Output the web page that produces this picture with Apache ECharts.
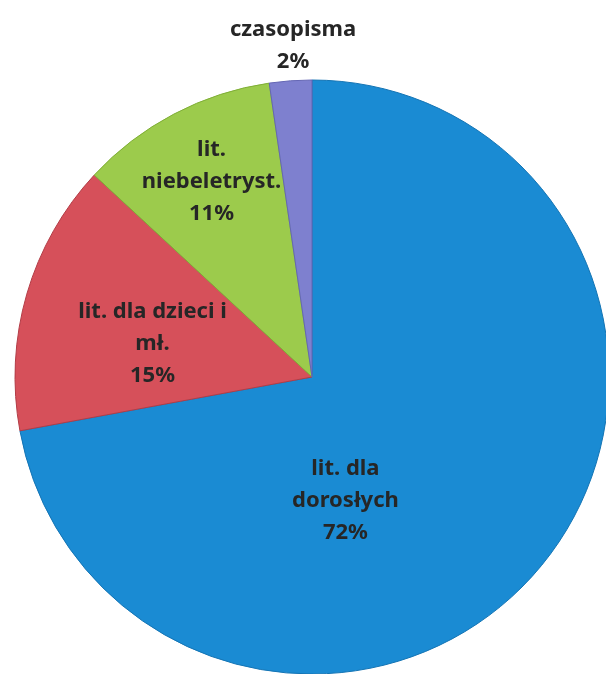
<!DOCTYPE html>
<html lang="pl">
<head>
  <meta charset="UTF-8">
  <title>Struktura zbiorów</title>
  <script src="https://cdn.jsdelivr.net/npm/echarts@6/dist/echarts.min.js"></script>
  <style>
    html, body { margin: 0; padding: 0; background: #fff; }
    #pie_show { width: 606px; height: 674px; }
  </style>
</head>
<body>
  <div id="pie_show"></div>
  <script>
    // dane (udział w %)
    var aNames = ['lit. dla\ndorosłych', 'lit. dla dzieci i\nmł.', 'lit.\nniebeletryst.', 'czasopisma'];
    var aShare = [72.1, 14.8, 10.8, 2.3];
    var aColors = ['#1a8bd3', '#d6505a', '#9ccb4c', '#7e80cf'];
    var aBorder = ['#1474b4', '#b23c46', '#7fae36', '#6466b4'];
    // przesunięcie etykiet względem domyślnej pozycji
    var aOffset = [[-83, 27], [-14, 9], [-30, -61], [-8, -180]];

    var aData = [];
    for (var i = 0; i < aNames.length; i++) {
      aData.push({
        value: aShare[i],
        name: aNames[i],
        itemStyle: { color: aColors[i], borderColor: aBorder[i] },
        label: { offset: aOffset[i] }
      });
    }

    var oPie = echarts.init(document.getElementById('pie_show'));
    var oPieopt = {
      animation: false,
      series: [
        {
          type: 'pie',
          center: [312, 377],
          radius: [0, 297],
          startAngle: 90,
          clockwise: true,
          avoidLabelOverlap: false,
          itemStyle: { borderWidth: 1 },
          label: {
            show: true,
            position: 'inside',
            fontFamily: 'Noto Sans',
            fontWeight: 'bold',
            fontSize: 22,
            lineHeight: 32,
            color: '#262626',
            formatter: function (p) {
              return p.name + '\n' + Math.round(p.value) + '%';
            }
          },
          labelLine: { show: false },
          data: aData
        }
      ]
    };
    oPie.setOption(oPieopt);
  </script>
</body>
</html>
